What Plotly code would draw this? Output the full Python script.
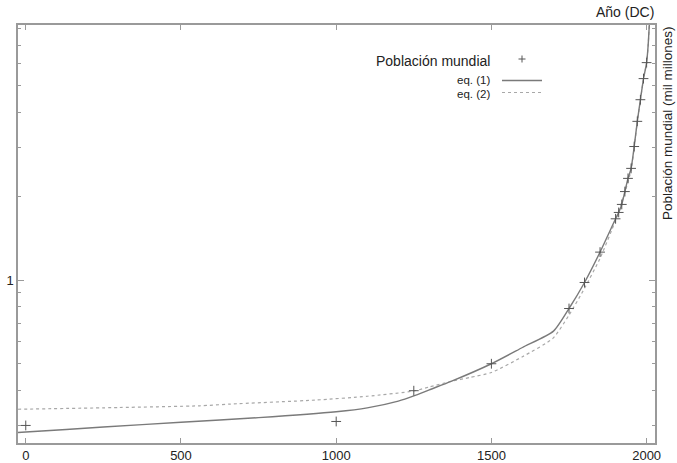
import plotly.graph_objects as go

# World population estimates (billions) by year AD
years = [0, 1000, 1250, 1500, 1750, 1800, 1850, 1900, 1910, 1920,
         1930, 1940, 1950, 1960, 1970, 1980, 1990, 2000]
population = [0.30, 0.31, 0.40, 0.50, 0.79, 0.98, 1.26, 1.66, 1.75, 1.87,
              2.08, 2.32, 2.52, 3.02, 3.72, 4.45, 5.30, 6.05]

# Model curve eq. (1)
eq1_years = [-25, 0, 250, 500, 750, 1000, 1100, 1200, 1250, 1300, 1370, 1500,
             1600, 1700, 1750, 1800, 1850, 1900, 1910, 1920, 1930, 1940,
             1950, 1960, 1970, 1980, 1990, 2000, 2005, 2009]
eq1_values = [0.283, 0.284, 0.296, 0.308, 0.320, 0.336, 0.347, 0.367, 0.383,
              0.403, 0.432, 0.50, 0.572, 0.655, 0.79, 0.98, 1.26, 1.66, 1.75,
              1.87, 2.08, 2.32, 2.52, 3.02, 3.72, 4.45, 5.30, 6.05, 7.0, 8.4]

# Model curve eq. (2)
eq2_years = [-25, 300, 561, 658, 931, 1100, 1250, 1301, 1370, 1430, 1500,
             1600, 1698, 1750, 1800, 1850, 1900, 1925, 1950, 1960, 1970,
             1980, 1990, 2000, 2005, 2009]
eq2_values = [0.343, 0.348, 0.353, 0.358, 0.370, 0.382, 0.399, 0.413, 0.432,
              0.446, 0.465, 0.53, 0.617, 0.748, 0.934, 1.197, 1.64, 1.98,
              2.48, 3.00, 3.70, 4.43, 5.28, 6.02, 7.0, 8.4]

x_ticks = [0, 500, 1000, 1500, 2000]
y_minor = [0.3, 0.4, 0.5, 0.6, 0.7, 0.8, 0.9, 2, 3, 4, 5, 6, 7, 8]
y_major = [1]

FONT = "Liberation Sans, Arial, sans-serif"
FRAME = "#9a9a9a"
TEXT = "#222222"

fig = go.Figure()
fig.add_trace(go.Scatter(x=eq2_years, y=eq2_values, mode="lines",
                         line=dict(color="#a8a8a8", width=1.2, dash="dot",
                                   shape="spline", smoothing=0.6),
                         name="eq. (2)", showlegend=False))
fig.add_trace(go.Scatter(x=eq1_years, y=eq1_values, mode="lines",
                         line=dict(color="#7a7a7a", width=1.4,
                                   shape="spline", smoothing=0.6),
                         name="eq. (1)", showlegend=False))
fig.add_trace(go.Scatter(x=years, y=population, mode="markers",
                         marker=dict(symbol="cross-thin", size=7,
                                     line=dict(color="#555555", width=1)),
                         name="Población mundial", showlegend=False))

W, H = 677, 463
L, R, T, B = 18, 22, 25, 20
pw, ph = W - L - R, H - T - B


def px(xp):
    return (xp - L) / pw


def py(yp):
    return (H - B - yp) / ph


fig.update_layout(
    width=W, height=H,
    margin=dict(l=L, r=R, t=T, b=B, autoexpand=False),
    paper_bgcolor="white", plot_bgcolor="white",
    font=dict(family=FONT, size=13, color=TEXT),
    showlegend=False,
    xaxis=dict(range=[-25, 2027], tickmode="array", tickvals=x_ticks,
               ticktext=[str(v) for v in x_ticks], automargin=False,
               ticks="inside", ticklen=5, tickcolor=FRAME, tickwidth=1,
               showline=True, linecolor=FRAME, linewidth=1.5, mirror="ticks",
               showgrid=False, zeroline=False,
               tickfont=dict(family=FONT, size=13, color=TEXT)),
    yaxis=dict(type="log", range=[-0.586, 0.917], tickmode="array",
               tickvals=y_major, ticktext=["1"], automargin=False,
               ticks="inside", ticklen=6, tickcolor=FRAME, tickwidth=1,
               showline=True, linecolor=FRAME, linewidth=1.5, mirror="ticks",
               showgrid=False, zeroline=False,
               minor=dict(tickmode="array", tickvals=y_minor, ticks="inside",
                          ticklen=3, tickcolor=FRAME, tickwidth=1, showgrid=False),
               tickfont=dict(family=FONT, size=13, color=TEXT)),
)

# Axis titles
fig.add_annotation(x=px(656), y=py(12), xref="paper", yref="paper",
                   text="Año (DC)", showarrow=False, xanchor="right", yanchor="middle",
                   font=dict(family=FONT, size=14, color=TEXT))
fig.add_annotation(x=px(668), y=py(24), xref="paper", yref="paper",
                   text="Población mundial (mil millones)", showarrow=False,
                   textangle=-90, xanchor="center", yanchor="top",
                   font=dict(family=FONT, size=13.5, color=TEXT))

# Key (text on the left, symbol on the right)
fig.add_annotation(x=px(492), y=py(61), xref="paper", yref="paper",
                   text="Población mundial", showarrow=False, xanchor="right",
                   yanchor="middle", font=dict(family=FONT, size=14, color=TEXT))
fig.add_annotation(x=px(492), y=py(80), xref="paper", yref="paper",
                   text="eq. (1)", showarrow=False, xanchor="right",
                   yanchor="middle", font=dict(family=FONT, size=11.5, color=TEXT))
fig.add_annotation(x=px(492), y=py(94), xref="paper", yref="paper",
                   text="eq. (2)", showarrow=False, xanchor="right",
                   yanchor="middle", font=dict(family=FONT, size=11.5, color=TEXT))

cx, cy = 522, 59
fig.add_shape(type="line", xref="paper", yref="paper",
              x0=px(cx - 3.5), x1=px(cx + 3.5), y0=py(cy), y1=py(cy),
              line=dict(color="#555555", width=1))
fig.add_shape(type="line", xref="paper", yref="paper",
              x0=px(cx), x1=px(cx), y0=py(cy - 3.5), y1=py(cy + 3.5),
              line=dict(color="#555555", width=1))
fig.add_shape(type="line", xref="paper", yref="paper",
              x0=px(502), x1=px(542), y0=py(80.5), y1=py(80.5),
              line=dict(color="#7a7a7a", width=1.4))
fig.add_shape(type="line", xref="paper", yref="paper",
              x0=px(502), x1=px(542), y0=py(92.5), y1=py(92.5),
              line=dict(color="#a8a8a8", width=1.2, dash="dot"))

fig.write_html("out.html")
